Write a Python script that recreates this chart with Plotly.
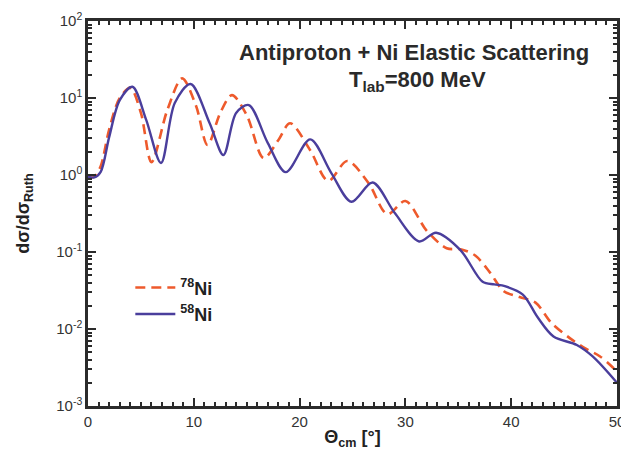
import plotly.graph_objects as go

# 78Ni (dashed, orange)
theta_78 = [0, 0.6, 1.2, 2.0, 3.0, 4.0, 5.0, 6.0, 7.5, 8.9, 10.2, 11.3, 12.5, 13.6, 15.0,
            16.6, 18.0, 19.1, 21.0, 22.7, 24.5, 26.5, 28.3, 30.0, 32.0, 33.9, 35.3, 36.6,
            38.0, 39.3, 40.8, 42.3, 43.8, 45.6, 47.0, 48.4, 50.0]
xs_78 = [0.93, 0.95, 1.3, 3.9, 10.0, 13.5, 6.4, 1.47, 7.0, 18.0, 8.0, 2.45, 6.4, 10.9, 6.0,
         1.66, 2.85, 4.7, 2.1, 0.84, 1.52, 0.79, 0.31, 0.46, 0.19, 0.112, 0.108, 0.090,
         0.054, 0.031, 0.026, 0.022, 0.012, 0.0075, 0.0056, 0.0044, 0.0028]

# 58Ni (solid, blue)
theta_58 = [0, 0.6, 1.2, 2.0, 3.0, 4.2, 5.5, 6.9, 8.2, 9.7, 11.5, 12.8, 14.0, 15.2, 17.0,
            18.7, 21.0, 23.0, 24.9, 26.9, 29.0, 31.3, 32.9, 35.2, 37.3, 38.4, 39.4, 41.1,
            42.5, 44.0, 46.2, 47.7, 50.0]
xs_58 = [0.95, 0.93, 1.1, 3.1, 9.4, 14.0, 5.2, 1.43, 8.6, 15.2, 4.7, 1.82, 6.4, 8.1, 2.6,
         1.09, 2.9, 1.06, 0.45, 0.80, 0.32, 0.137, 0.178, 0.106, 0.041, 0.038, 0.036, 0.028,
         0.0142, 0.0080, 0.0062, 0.0044, 0.0020]

y_tick_vals = [1e-3, 1e-2, 1e-1, 1e0, 1e1, 1e2]
y_tick_text = ["10<sup>-3</sup>", "10<sup>-2</sup>", "10<sup>-1</sup>",
               "10<sup>0</sup>", "10<sup>1</sup>", "10<sup>2</sup>"]

orange = "#EE5A2C"
blue = "#4A3E9C"
axis_col = "#2b2b2b"
font_family = "Liberation Sans, Arial, sans-serif"

fig = go.Figure()
fig.add_trace(go.Scatter(
    x=theta_78, y=xs_78, mode="lines", name="<b><sup>78</sup>Ni</b>",
    line=dict(color=orange, width=2.6, dash="10px,6px", shape="spline", smoothing=0.9)))
fig.add_trace(go.Scatter(
    x=theta_58, y=xs_58, mode="lines", name="<b><sup>58</sup>Ni</b>",
    line=dict(color=blue, width=2.4, shape="spline", smoothing=0.9)))

# the page body adds an 8px offset, so the figure is 8px smaller with margins shifted
fig.update_layout(
    width=621, height=461,
    margin=dict(l=80, r=12, t=13, b=63),
    paper_bgcolor="white", plot_bgcolor="white",
    font=dict(family=font_family, color="#222222", size=14),
    showlegend=True,
    legend=dict(x=0.08, y=0.355, xanchor="left", yanchor="top",
                bgcolor="rgba(0,0,0,0)", font=dict(size=18, color="#222222"),
                itemwidth=40),
    annotations=[
        dict(text="<b>Antiproton + Ni Elastic Scattering</b>", x=0.616, y=0.919,
             xref="paper", yref="paper", showarrow=False,
             font=dict(size=22, color="#2a2a2a"),
             xanchor="center", yanchor="middle"),
        dict(text="<b>T<sub>lab</sub>=800 MeV</b>", x=0.622, y=0.844,
             xref="paper", yref="paper", showarrow=False,
             font=dict(size=22, color="#2a2a2a"),
             xanchor="center", yanchor="middle"),
    ],
)

fig.update_xaxes(
    range=[0, 50], tickmode="linear", tick0=0, dtick=10, automargin=False,
    ticks="inside", ticklen=8, tickwidth=1.8, tickcolor=axis_col,
    minor=dict(ticks="inside", ticklen=4, dtick=1, tickcolor=axis_col, tickwidth=1.5),
    showline=True, linecolor=axis_col, linewidth=2.5, mirror="ticks",
    showgrid=False, zeroline=False,
    title=dict(text="<b>Θ<sub>cm</sub> [°]</b>", font=dict(size=18), standoff=2),
    tickfont=dict(size=15, color="#333333"),
)
fig.update_yaxes(
    type="log", range=[-3, 2], tickmode="array", tickvals=y_tick_vals,
    ticktext=y_tick_text, automargin=False,
    ticks="inside", ticklen=8, tickwidth=1.8, tickcolor=axis_col,
    minor=dict(ticks="inside", ticklen=4, dtick="D1", tickcolor=axis_col, tickwidth=1.5),
    showline=True, linecolor=axis_col, linewidth=2.5, mirror="ticks",
    showgrid=False, zeroline=False,
    title=dict(text="<b>dσ/dσ<sub>Ruth</sub></b>", font=dict(size=18), standoff=22),
    tickfont=dict(size=15, color="#333333"),
)

fig.write_html("out.html")
